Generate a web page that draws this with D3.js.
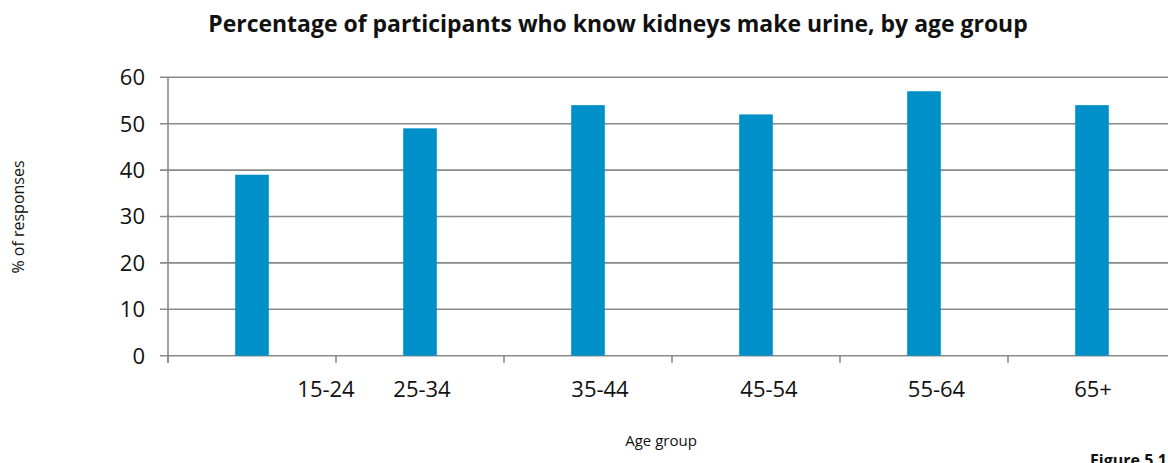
<!DOCTYPE html>
<html>
<head>
<meta charset="utf-8">
<script src="https://cdn.jsdelivr.net/npm/d3@7"></script>
<style>
  html, body { margin: 0; padding: 0; background: #fff; }
  svg { display: block; font-family: "Open Sans", "DejaVu Sans", sans-serif; }
</style>
</head>
<body>
<svg id="chart" width="1168" height="463"></svg>
<script>
// ---- data ----
const categories = ["15-24", "25-34", "35-44", "45-54", "55-64", "65+"];
const values = [39, 49, 54, 52, 57, 54];
const yTicks = [0, 10, 20, 30, 40, 50, 60];
const titleText = "Percentage of participants who know kidneys make urine, by age group";
const yTitle = "% of responses";
const xTitle = "Age group";
const figureLabel = "Figure 5.1";

// ---- layout ----
const W = 1168, H = 463;
const plot = { left: 168, right: 1176, top: 77.3, bottom: 355.7 };
const gridColor = "#8a8a8a";
const barColor = "#0090c8";

const svg = d3.select("#chart");

const x = d3.scaleBand().domain(categories).range([plot.left, plot.right]).paddingInner(0).paddingOuter(0);
const y = d3.scaleLinear().domain([0, 60]).range([plot.bottom, plot.top]);

// gridlines + y ticks
svg.append("g").selectAll("line").data(yTicks).join("line")
  .attr("x1", plot.left - 8).attr("x2", plot.right)
  .attr("y1", d => y(d)).attr("y2", d => y(d))
  .attr("stroke", gridColor).attr("stroke-width", 1.6);

// y axis line
svg.append("line")
  .attr("x1", plot.left).attr("x2", plot.left)
  .attr("y1", y(60)).attr("y2", plot.bottom + 7)
  .attr("stroke", gridColor).attr("stroke-width", 1.6);

// x category boundary ticks
const boundaries = categories.map(c => x(c));
svg.append("g").selectAll("line").data(boundaries).join("line")
  .attr("x1", d => d).attr("x2", d => d)
  .attr("y1", plot.bottom).attr("y2", plot.bottom + 7)
  .attr("stroke", gridColor).attr("stroke-width", 1.6);

// y tick labels
svg.append("g").selectAll("text").data(yTicks).join("text")
  .attr("x", 145).attr("y", d => y(d))
  .attr("dy", "0.36em")
  .attr("text-anchor", "end")
  .attr("font-size", 22).attr("fill", "#111")
  .text(d => d);

// bars
const bw = x.bandwidth() * 0.2;
svg.append("g").selectAll("rect").data(values).join("rect")
  .attr("x", (d, i) => x(categories[i]) + x.bandwidth() / 2 - bw / 2)
  .attr("width", bw)
  .attr("y", d => y(d))
  .attr("height", d => y(0) - y(d))
  .attr("fill", barColor);

// x tick labels (the original places them slightly off the bar centres)
const labelShift = [74, 2, 12, 13, 12.5, 1];
svg.append("g").selectAll("text").data(categories).join("text")
  .attr("x", (d, i) => x(d) + x.bandwidth() / 2 + labelShift[i])
  .attr("y", 396.5)
  .attr("text-anchor", "middle")
  .attr("font-size", 22).attr("fill", "#111")
  .text(d => d);

// title, fitted to the original width
const title = svg.append("text")
  .attr("x", 618).attr("y", 32)
  .attr("text-anchor", "middle")
  .attr("font-weight", "bold").attr("font-size", 20).attr("fill", "#111")
  .text(titleText);
const tw = title.node().getComputedTextLength();
title.attr("font-size", 20 * 820 / tw);

// y axis title
svg.append("text")
  .attr("transform", "translate(24,217) rotate(-90)")
  .attr("text-anchor", "middle")
  .attr("font-size", 16).attr("fill", "#111")
  .text(yTitle);

// x axis title
svg.append("text")
  .attr("x", 661).attr("y", 446)
  .attr("text-anchor", "middle")
  .attr("font-size", 15).attr("fill", "#111")
  .text(xTitle);

// figure label (cut at the bottom edge, as in the original)
svg.append("text")
  .attr("x", 1167).attr("y", 466)
  .attr("text-anchor", "end")
  .attr("font-weight", "bold")
  .attr("font-size", 16).attr("fill", "#111")
  .text(figureLabel);
</script>
</body>
</html>
